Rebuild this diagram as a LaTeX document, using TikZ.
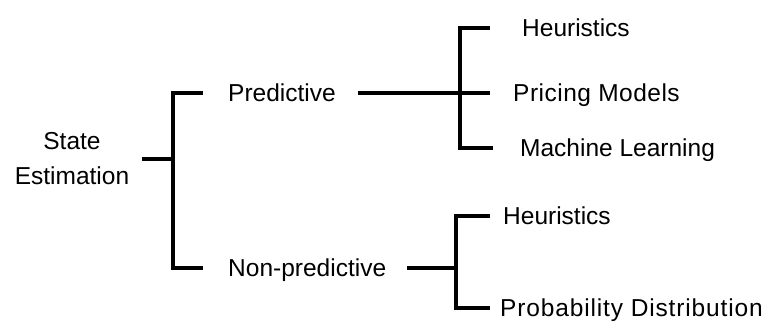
\documentclass[tikz,border=0pt]{standalone}
\usepackage{fontspec}
\setmainfont{Liberation Sans}
\begin{document}
\begin{tikzpicture}[x=1pt,y=-1pt,
  label/.style={inner sep=0pt,anchor=west,text height=17pt,text depth=0pt,
    font=\fontsize{24.5}{35}\selectfont},
  branch/.style={line width=3.5pt,line join=miter}]
\useasboundingbox (0,0) rectangle (762,325);

% labels
\node[inner sep=0pt,align=center,font=\fontsize{24.5}{35}\selectfont] (se) at (72,159) {State\\Estimation};
\node[label] (pred) at (228,93) {Predictive};
\node[label] (nonpred) at (228,268) {Non-predictive};
\node[label] (h1) at (522,28) {Heuristics};
\node[label] (pm) at (513,93) {\addfontfeature{LetterSpace=2}Pricing Models};
\node[label] (ml) at (520,148) {Machine Learning};
\node[label] (h2) at (503,216) {Heuristics};
\node[label] (pd) at (500,308) {\addfontfeature{LetterSpace=3.5}Probability Distribution};

% bracket spines
\coordinate (s1) at (173,180);
\coordinate (s2) at (460,120);
\coordinate (s3) at (456,260);

% State Estimation
\draw[branch] ([xshift=13pt]se.east) -- (se.east -| s1);
\draw[branch] ([xshift=-25pt]pred.west) -| (s1) |- ([xshift=-25pt]nonpred.west);

% Predictive
\draw[branch] ([xshift=22pt]pred.east) -- ([xshift=-23pt]pm.west);
\draw[branch] ([xshift=-32pt]h1.west) -| (s2) |- ([xshift=-27pt]ml.west);

% Non-predictive
\draw[branch] ([xshift=21pt]nonpred.east) -- (nonpred.east -| s3);
\draw[branch] ([xshift=-13pt]h2.west) -| (s3) |- ([xshift=-10pt]pd.west);
\end{tikzpicture}
\end{document}
